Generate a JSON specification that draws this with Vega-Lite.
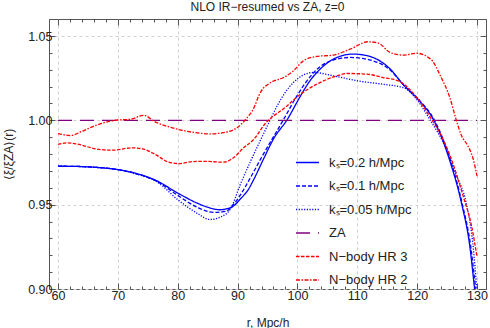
{
  "$schema": "https://vega.github.io/schema/vega-lite/v6.json",
  "width": 437,
  "height": 270,
  "autosize": "none",
  "padding": {"left": 49, "top": 19, "right": 4, "bottom": 39},
  "title": {"text": "NLO IR−resumed vs ZA, z=0", "fontSize": 12, "font": "Liberation Sans", "fontWeight": "normal", "color": "#222", "anchor": "middle", "offset": 5},
  "config": {
    "view": {"stroke": "#555", "strokeWidth": 1},
    "font": "Liberation Sans",
    "axis": {"domain": false, "labelFont": "Liberation Sans", "labelFontSize": 12.5, "labelColor": "#222", "titleFont": "Liberation Sans", "titleFontSize": 12, "titleFontWeight": "normal", "titleColor": "#222", "tickColor": "#555", "gridColor": "#d0d0d0", "gridDash": [3, 3]}
  },
  "data": {"values": [
    {"s": "kₛ=0.2 h/Mpc", "r": 60, "v": 0.9728},
    {"s": "kₛ=0.2 h/Mpc", "r": 63, "v": 0.9727},
    {"s": "kₛ=0.2 h/Mpc", "r": 66, "v": 0.9722},
    {"s": "kₛ=0.2 h/Mpc", "r": 70, "v": 0.9708},
    {"s": "kₛ=0.2 h/Mpc", "r": 73, "v": 0.9686},
    {"s": "kₛ=0.2 h/Mpc", "r": 76.6, "v": 0.964},
    {"s": "kₛ=0.2 h/Mpc", "r": 80, "v": 0.9569},
    {"s": "kₛ=0.2 h/Mpc", "r": 83.2, "v": 0.951},
    {"s": "kₛ=0.2 h/Mpc", "r": 85, "v": 0.9485},
    {"s": "kₛ=0.2 h/Mpc", "r": 87, "v": 0.947},
    {"s": "kₛ=0.2 h/Mpc", "r": 89, "v": 0.9485},
    {"s": "kₛ=0.2 h/Mpc", "r": 90.5, "v": 0.9535},
    {"s": "kₛ=0.2 h/Mpc", "r": 91.8, "v": 0.959},
    {"s": "kₛ=0.2 h/Mpc", "r": 92.7, "v": 0.9649},
    {"s": "kₛ=0.2 h/Mpc", "r": 94.3, "v": 0.9768},
    {"s": "kₛ=0.2 h/Mpc", "r": 96, "v": 0.989},
    {"s": "kₛ=0.2 h/Mpc", "r": 98.3, "v": 1.0005},
    {"s": "kₛ=0.2 h/Mpc", "r": 100.5, "v": 1.0144},
    {"s": "kₛ=0.2 h/Mpc", "r": 102, "v": 1.023},
    {"s": "kₛ=0.2 h/Mpc", "r": 103.8, "v": 1.0304},
    {"s": "kₛ=0.2 h/Mpc", "r": 106, "v": 1.0363},
    {"s": "kₛ=0.2 h/Mpc", "r": 109.3, "v": 1.0393},
    {"s": "kₛ=0.2 h/Mpc", "r": 112.1, "v": 1.0379},
    {"s": "kₛ=0.2 h/Mpc", "r": 115.5, "v": 1.0304},
    {"s": "kₛ=0.2 h/Mpc", "r": 117.7, "v": 1.021},
    {"s": "kₛ=0.2 h/Mpc", "r": 120.4, "v": 1.0115},
    {"s": "kₛ=0.2 h/Mpc", "r": 122.7, "v": 1.0006},
    {"s": "kₛ=0.2 h/Mpc", "r": 125.5, "v": 0.9755},
    {"s": "kₛ=0.2 h/Mpc", "r": 127.4, "v": 0.951},
    {"s": "kₛ=0.2 h/Mpc", "r": 128.8, "v": 0.9252},
    {"s": "kₛ=0.2 h/Mpc", "r": 129.6, "v": 0.9},
    {"s": "kₛ=0.2 h/Mpc", "r": 130, "v": 0.888},
    {"s": "kₛ=0.1 h/Mpc", "r": 60, "v": 0.9728},
    {"s": "kₛ=0.1 h/Mpc", "r": 63, "v": 0.9727},
    {"s": "kₛ=0.1 h/Mpc", "r": 66, "v": 0.9722},
    {"s": "kₛ=0.1 h/Mpc", "r": 70, "v": 0.9708},
    {"s": "kₛ=0.1 h/Mpc", "r": 73, "v": 0.9684},
    {"s": "kₛ=0.1 h/Mpc", "r": 76.6, "v": 0.9637},
    {"s": "kₛ=0.1 h/Mpc", "r": 80, "v": 0.9555},
    {"s": "kₛ=0.1 h/Mpc", "r": 83.2, "v": 0.9486},
    {"s": "kₛ=0.1 h/Mpc", "r": 86, "v": 0.9454},
    {"s": "kₛ=0.1 h/Mpc", "r": 88, "v": 0.946},
    {"s": "kₛ=0.1 h/Mpc", "r": 89.3, "v": 0.95},
    {"s": "kₛ=0.1 h/Mpc", "r": 90.6, "v": 0.9565},
    {"s": "kₛ=0.1 h/Mpc", "r": 92.3, "v": 0.967},
    {"s": "kₛ=0.1 h/Mpc", "r": 94, "v": 0.978},
    {"s": "kₛ=0.1 h/Mpc", "r": 97.7, "v": 1.0006},
    {"s": "kₛ=0.1 h/Mpc", "r": 100, "v": 1.015},
    {"s": "kₛ=0.1 h/Mpc", "r": 102.5, "v": 1.0275},
    {"s": "kₛ=0.1 h/Mpc", "r": 104.9, "v": 1.0343},
    {"s": "kₛ=0.1 h/Mpc", "r": 108.8, "v": 1.0373},
    {"s": "kₛ=0.1 h/Mpc", "r": 112, "v": 1.0359},
    {"s": "kₛ=0.1 h/Mpc", "r": 115.5, "v": 1.0298},
    {"s": "kₛ=0.1 h/Mpc", "r": 117.7, "v": 1.0212},
    {"s": "kₛ=0.1 h/Mpc", "r": 120.4, "v": 1.0118},
    {"s": "kₛ=0.1 h/Mpc", "r": 122.8, "v": 1.0006},
    {"s": "kₛ=0.1 h/Mpc", "r": 125.6, "v": 0.976},
    {"s": "kₛ=0.1 h/Mpc", "r": 127.5, "v": 0.951},
    {"s": "kₛ=0.1 h/Mpc", "r": 129, "v": 0.924},
    {"s": "kₛ=0.1 h/Mpc", "r": 129.8, "v": 0.9},
    {"s": "kₛ=0.1 h/Mpc", "r": 130.2, "v": 0.89},
    {"s": "kₛ=0.05 h/Mpc", "r": 60, "v": 0.9728},
    {"s": "kₛ=0.05 h/Mpc", "r": 63, "v": 0.9727},
    {"s": "kₛ=0.05 h/Mpc", "r": 66, "v": 0.9722},
    {"s": "kₛ=0.05 h/Mpc", "r": 70, "v": 0.9708},
    {"s": "kₛ=0.05 h/Mpc", "r": 73, "v": 0.9683},
    {"s": "kₛ=0.05 h/Mpc", "r": 76.6, "v": 0.9634},
    {"s": "kₛ=0.05 h/Mpc", "r": 80, "v": 0.953},
    {"s": "kₛ=0.05 h/Mpc", "r": 83.2, "v": 0.945},
    {"s": "kₛ=0.05 h/Mpc", "r": 85.4, "v": 0.9412},
    {"s": "kₛ=0.05 h/Mpc", "r": 87, "v": 0.9425},
    {"s": "kₛ=0.05 h/Mpc", "r": 88.8, "v": 0.9474},
    {"s": "kₛ=0.05 h/Mpc", "r": 90.4, "v": 0.9615},
    {"s": "kₛ=0.05 h/Mpc", "r": 92.2, "v": 0.976},
    {"s": "kₛ=0.05 h/Mpc", "r": 94, "v": 0.9895},
    {"s": "kₛ=0.05 h/Mpc", "r": 95.5, "v": 1.0006},
    {"s": "kₛ=0.05 h/Mpc", "r": 96.6, "v": 1.0085},
    {"s": "kₛ=0.05 h/Mpc", "r": 99.3, "v": 1.0224},
    {"s": "kₛ=0.05 h/Mpc", "r": 102.7, "v": 1.0284},
    {"s": "kₛ=0.05 h/Mpc", "r": 106, "v": 1.0264},
    {"s": "kₛ=0.05 h/Mpc", "r": 110.1, "v": 1.0234},
    {"s": "kₛ=0.05 h/Mpc", "r": 114.3, "v": 1.0214},
    {"s": "kₛ=0.05 h/Mpc", "r": 117.7, "v": 1.0194},
    {"s": "kₛ=0.05 h/Mpc", "r": 119.9, "v": 1.0125},
    {"s": "kₛ=0.05 h/Mpc", "r": 122.1, "v": 1.0006},
    {"s": "kₛ=0.05 h/Mpc", "r": 124.9, "v": 0.9828},
    {"s": "kₛ=0.05 h/Mpc", "r": 126.6, "v": 0.967},
    {"s": "kₛ=0.05 h/Mpc", "r": 128.2, "v": 0.951},
    {"s": "kₛ=0.05 h/Mpc", "r": 129.3, "v": 0.927},
    {"s": "kₛ=0.05 h/Mpc", "r": 130, "v": 0.9},
    {"s": "kₛ=0.05 h/Mpc", "r": 130.4, "v": 0.888},
    {"s": "ZA", "r": 60, "v": 1.0},
    {"s": "ZA", "r": 130, "v": 1.0},
    {"s": "N−body HR 3", "r": 60, "v": 0.9857},
    {"s": "N−body HR 3", "r": 61.6, "v": 0.9867},
    {"s": "N−body HR 3", "r": 63.5, "v": 0.9857},
    {"s": "N−body HR 3", "r": 66.3, "v": 0.9831},
    {"s": "N−body HR 3", "r": 69.1, "v": 0.9823},
    {"s": "N−body HR 3", "r": 72.4, "v": 0.9837},
    {"s": "N−body HR 3", "r": 74.1, "v": 0.9831},
    {"s": "N−body HR 3", "r": 76.3, "v": 0.9797},
    {"s": "N−body HR 3", "r": 78.5, "v": 0.9752},
    {"s": "N−body HR 3", "r": 80.2, "v": 0.9744},
    {"s": "N−body HR 3", "r": 82.4, "v": 0.9755},
    {"s": "N−body HR 3", "r": 84.3, "v": 0.9757},
    {"s": "N−body HR 3", "r": 87.7, "v": 0.9752},
    {"s": "N−body HR 3", "r": 89.3, "v": 0.9778},
    {"s": "N−body HR 3", "r": 91, "v": 0.9837},
    {"s": "N−body HR 3", "r": 92.7, "v": 0.9887},
    {"s": "N−body HR 3", "r": 94.6, "v": 0.998},
    {"s": "N−body HR 3", "r": 97.9, "v": 1.0075},
    {"s": "N−body HR 3", "r": 100.5, "v": 1.0155},
    {"s": "N−body HR 3", "r": 103.2, "v": 1.0214},
    {"s": "N−body HR 3", "r": 106.6, "v": 1.0264},
    {"s": "N−body HR 3", "r": 108.2, "v": 1.0278},
    {"s": "N−body HR 3", "r": 111.6, "v": 1.0274},
    {"s": "N−body HR 3", "r": 114.3, "v": 1.0254},
    {"s": "N−body HR 3", "r": 117.1, "v": 1.023},
    {"s": "N−body HR 3", "r": 119.6, "v": 1.015},
    {"s": "N−body HR 3", "r": 122.4, "v": 1.0006},
    {"s": "N−body HR 3", "r": 124.3, "v": 0.989},
    {"s": "N−body HR 3", "r": 125.5, "v": 0.979},
    {"s": "N−body HR 3", "r": 127.7, "v": 0.9549},
    {"s": "N−body HR 3", "r": 129.1, "v": 0.9371},
    {"s": "N−body HR 3", "r": 130, "v": 0.919},
    {"s": "N−body HR 2", "r": 60, "v": 0.9922},
    {"s": "N−body HR 2", "r": 62.1, "v": 0.991},
    {"s": "N−body HR 2", "r": 64, "v": 0.9935},
    {"s": "N−body HR 2", "r": 66.3, "v": 0.997},
    {"s": "N−body HR 2", "r": 69.9, "v": 1.0002},
    {"s": "N−body HR 2", "r": 72.1, "v": 1.0006},
    {"s": "N−body HR 2", "r": 74.3, "v": 1.003},
    {"s": "N−body HR 2", "r": 76.3, "v": 0.999},
    {"s": "N−body HR 2", "r": 79.1, "v": 0.9956},
    {"s": "N−body HR 2", "r": 82.4, "v": 0.993},
    {"s": "N−body HR 2", "r": 85.5, "v": 0.992},
    {"s": "N−body HR 2", "r": 87.6, "v": 0.9927},
    {"s": "N−body HR 2", "r": 89.9, "v": 0.9956},
    {"s": "N−body HR 2", "r": 91.6, "v": 1.0016},
    {"s": "N−body HR 2", "r": 92.6, "v": 1.0065},
    {"s": "N−body HR 2", "r": 93.8, "v": 1.0165},
    {"s": "N−body HR 2", "r": 95.5, "v": 1.0224},
    {"s": "N−body HR 2", "r": 97.7, "v": 1.0254},
    {"s": "N−body HR 2", "r": 99.3, "v": 1.0293},
    {"s": "N−body HR 2", "r": 101, "v": 1.0353},
    {"s": "N−body HR 2", "r": 103.2, "v": 1.0379},
    {"s": "N−body HR 2", "r": 106, "v": 1.0387},
    {"s": "N−body HR 2", "r": 108.8, "v": 1.0422},
    {"s": "N−body HR 2", "r": 111.8, "v": 1.0466},
    {"s": "N−body HR 2", "r": 113.5, "v": 1.0458},
    {"s": "N−body HR 2", "r": 115.5, "v": 1.0402},
    {"s": "N−body HR 2", "r": 117.7, "v": 1.0387},
    {"s": "N−body HR 2", "r": 119.9, "v": 1.0398},
    {"s": "N−body HR 2", "r": 121.6, "v": 1.0379},
    {"s": "N−body HR 2", "r": 122.6, "v": 1.035},
    {"s": "N−body HR 2", "r": 123.8, "v": 1.027},
    {"s": "N−body HR 2", "r": 125.5, "v": 1.013},
    {"s": "N−body HR 2", "r": 126.5, "v": 1.0006},
    {"s": "N−body HR 2", "r": 127.4, "v": 0.991},
    {"s": "N−body HR 2", "r": 128.5, "v": 0.9847},
    {"s": "N−body HR 2", "r": 129.3, "v": 0.9778},
    {"s": "N−body HR 2", "r": 130, "v": 0.967}
  ]},
  "layer": [
    {
      "mark": {"type": "line", "interpolate": "monotone", "clip": true},
      "encoding": {
        "x": {"field": "r", "type": "quantitative", "scale": {"domain": [58.5, 131.5], "nice": false, "zero": false},
          "axis": {"title": "r, Mpc/h", "values": [60,62,64,66,68,70,72,74,76,78,80,82,84,86,88,90,92,94,96,98,100,102,104,106,108,110,112,114,116,118,120,122,124,126,128,130],
            "labelExpr": "datum.value % 10 == 0 ? datum.label : ''", "labelPadding": 6, "labelFlush": false,
            "tickSize": {"condition": {"test": "datum.value % 10 == 0", "value": -6}, "value": -3},
            "gridOpacity": {"condition": {"test": "datum.value % 10 == 0", "value": 1}, "value": 0},
            "titleY": 37, "titleBaseline": "alphabetic"}},
        "y": {"field": "v", "type": "quantitative", "scale": {"domain": [0.9, 1.0601], "nice": false, "zero": false},
          "axis": {"title": "⟨ξ/ξZA⟩(r)", "values": [0.9,0.91,0.92,0.93,0.94,0.95,0.96,0.97,0.98,0.99,1.0,1.01,1.02,1.03,1.04,1.05,1.06],
            "format": ".2f", "labelExpr": "round(datum.value*100) % 5 == 0 ? datum.label : ''", "labelPadding": 3, "labelFlush": false,
            "tickSize": {"condition": {"test": "round(datum.value*100) % 5 == 0", "value": -6}, "value": -3},
            "gridOpacity": {"condition": {"test": "round(datum.value*100) % 5 == 0", "value": 1}, "value": 0},
            "titleX": -41, "titleY": 135, "titleAngle": -90, "titleBaseline": "middle"}},
        "color": {"field": "s", "type": "nominal",
          "scale": {"domain": ["kₛ=0.2 h/Mpc", "kₛ=0.1 h/Mpc", "kₛ=0.05 h/Mpc", "ZA", "N−body HR 3", "N−body HR 2"],
            "range": ["#0000ff", "#0000ff", "#0000ff", "#800080", "#ff0000", "#ff0000"]},
          "legend": {"title": null, "orient": "none", "legendX": 246, "legendY": 131, "padding": 0, "symbolType": "stroke", "symbolSize": 529, "symbolStrokeWidth": 1.3, "labelFont": "Liberation Sans", "labelFontSize": 13, "labelColor": "#222", "labelOffset": 9, "rowPadding": 3.5, "labelLimit": 200}},
        "strokeDash": {"field": "s", "type": "nominal",
          "scale": {"domain": ["kₛ=0.2 h/Mpc", "kₛ=0.1 h/Mpc", "kₛ=0.05 h/Mpc", "ZA", "N−body HR 3", "N−body HR 2"],
            "range": [[1, 0], [4, 2], [1.2, 1.5], [14, 8], [3.5, 1.5], [4, 1.5, 1.5, 1.5]]}},
        "strokeWidth": {"field": "s", "type": "nominal",
          "scale": {"domain": ["kₛ=0.2 h/Mpc", "kₛ=0.1 h/Mpc", "kₛ=0.05 h/Mpc", "ZA", "N−body HR 3", "N−body HR 2"],
            "range": [1.3, 1.3, 1.3, 1.4, 2, 2]}, "legend": null}
      }
    },
    {
      "mark": {"type": "point", "opacity": 0},
      "encoding": {
        "x": {"field": "r", "type": "quantitative",
          "axis": {"orient": "top", "title": null, "labels": false, "grid": false, "values": [60,62,64,66,68,70,72,74,76,78,80,82,84,86,88,90,92,94,96,98,100,102,104,106,108,110,112,114,116,118,120,122,124,126,128,130],
            "tickSize": {"condition": {"test": "datum.value % 10 == 0", "value": -6}, "value": -3}}},
        "y": {"field": "v", "type": "quantitative",
          "axis": {"orient": "right", "title": null, "labels": false, "grid": false, "values": [0.9,0.91,0.92,0.93,0.94,0.95,0.96,0.97,0.98,0.99,1.0,1.01,1.02,1.03,1.04,1.05,1.06],
            "tickSize": {"condition": {"test": "round(datum.value*100) % 5 == 0", "value": -6}, "value": -3}}}
      }
    }
  ],
  "resolve": {"axis": {"x": "independent", "y": "independent"}}
}
